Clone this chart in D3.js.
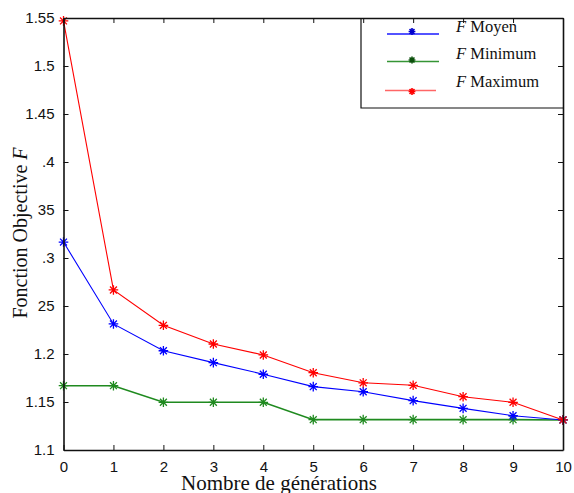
<!DOCTYPE html>
<html>
<head>
<meta charset="utf-8">
<script src="https://cdn.jsdelivr.net/npm/d3@7"></script>
<style>
html,body{margin:0;padding:0;background:#fff;}
svg{display:block;}
</style>
</head>
<body>
<svg id="chart" width="574" height="493"></svg>
<script>
const generations = [0,1,2,3,4,5,6,7,8,9,10];
const fMoyen   = [1.3166,1.2313,1.2034,1.1910,1.1789,1.1660,1.1607,1.1514,1.1434,1.1357,1.1313];
const fMinimum = [1.1670,1.1670,1.1497,1.1497,1.1497,1.1316,1.1316,1.1316,1.1316,1.1316,1.1313];
const fMaximum = [1.5470,1.2667,1.2299,1.2104,1.1990,1.1805,1.1700,1.1674,1.1555,1.1497,1.1313];
const xTickValues = [0,1,2,3,4,5,6,7,8,9,10];
const yTickValues = [1.1,1.15,1.2,1.25,1.3,1.35,1.4,1.45,1.5,1.55];
const yTickLabels = ["1.1","1.15","1.2","25",".3","35",".4","1.45","1.5","1.55"];
const seriesNames = ["Moyen","Minimum","Maximum"];

const series = [
  {name: seriesNames[0], values: fMoyen,   color: "#0000ff", width: 1.1},
  {name: seriesNames[1], values: fMinimum, color: "#1f8a1f", width: 1.6},
  {name: seriesNames[2], values: fMaximum, color: "#ff0000", width: 1.1}
];

const svg = d3.select("#chart");
const L = 63.5, R = 563, T = 18, B = 450;
const x = d3.scaleLinear().domain([0,10]).range([L,R]);
const y = d3.scaleLinear().domain([1.1,1.55]).range([B,T]);

const line = d3.line().x((d,i)=>x(generations[i])).y(d=>y(d));
function star(g, cx, cy, color, r, w){
  const d = r*0.72;
  const p = `M${cx-r},${cy}L${cx+r},${cy}M${cx},${cy-r}L${cx},${cy+r}` +
            `M${cx-d},${cy-d}L${cx+d},${cy+d}M${cx-d},${cy+d}L${cx+d},${cy-d}`;
  g.append("path").attr("d", p).attr("stroke", color).attr("stroke-width", w || 1.2).attr("fill","none");
}
[series[1], series[0], series[2]].forEach(s=>{
  const g = svg.append("g");
  g.append("path").datum(s.values).attr("d", line)
    .attr("fill","none").attr("stroke", s.color).attr("stroke-width", s.width);
  s.values.forEach((v,i)=> star(g, x(generations[i]), y(v), s.color, 4.8, 1.3));
});

const axisColor = "#111";
const fontSans = "'Liberation Sans', Arial, sans-serif";
const fontSerif = "'Liberation Serif', 'Times New Roman', serif";

const gxB = svg.append("g").attr("transform",`translate(0,${B})`)
  .call(d3.axisBottom(x).tickValues(xTickValues).tickFormat(d3.format("d")).tickSizeInner(-5).tickSizeOuter(0).tickPadding(9));
const gxT = svg.append("g").attr("transform",`translate(0,${T})`)
  .call(d3.axisTop(x).tickValues(xTickValues).tickFormat("").tickSizeInner(-5).tickSizeOuter(0));
const gyL = svg.append("g").attr("transform",`translate(${L},0)`)
  .call(d3.axisLeft(y).tickValues(yTickValues).tickFormat((d,i)=>yTickLabels[i]).tickSizeInner(-5).tickSizeOuter(0).tickPadding(9));
const gyR = svg.append("g").attr("transform",`translate(${R},0)`)
  .call(d3.axisRight(y).tickValues(yTickValues).tickFormat("").tickSizeInner(-5).tickSizeOuter(0));

[gxB,gxT,gyL,gyR].forEach(g=>{
  g.select(".domain").attr("stroke", axisColor).attr("stroke-width", 1.6);
  g.selectAll(".tick line").attr("stroke", axisColor).attr("stroke-width", 1);
  g.selectAll("text").attr("fill","#111").style("font-family", fontSans).style("font-size","15px");
});
gxB.selectAll("text").attr("dy","0.85em");

svg.append("text").attr("x", 279).attr("y", 490).attr("text-anchor","middle")
  .style("font-family", fontSerif).style("font-size","21px").attr("fill","#111")
  .text("Nombre de générations");
const yl = svg.append("text").attr("transform","translate(27,233) rotate(-90)").attr("text-anchor","middle")
  .style("font-family", fontSerif).style("font-size","20px").attr("fill","#111");
yl.append("tspan").text("Fonction Objective ");
yl.append("tspan").style("font-style","italic").text("F");

const lg = svg.append("g");
lg.append("path").attr("d", `M361,${T}L361,108L${R},108`).attr("fill","none").attr("stroke", axisColor).attr("stroke-width",1.2);
const legRows = [
  {s: series[0], ly: 34, sy: 31.5, ty: 31.5, x1: 387, x2: 439, sc: "#0000cc"},
  {s: series[1], ly: 61.5, sy: 60, ty: 58.5, x1: 387, x2: 439, sc: "#0b4f0b"},
  {s: series[2], ly: 90.5, sy: 91.5, ty: 87, x1: 385, x2: 436, sc: "#ff0000"}
];
legRows.forEach(r=>{
  lg.append("line").attr("x1", r.x1).attr("x2", r.x2).attr("y1", r.ly).attr("y2", r.ly)
    .attr("stroke", r.s.color).attr("stroke-width", 1.3).attr("stroke-opacity", r.s === series[2] ? 0.6 : 0.9);
  star(lg, 412, r.sy, r.sc, 3.4, 1.6);
  const t = lg.append("text").attr("x", 456).attr("y", r.ty)
    .style("font-family", fontSerif).style("font-size","16.5px").attr("fill","#111");
  t.append("tspan").style("font-style","italic").text("F");
  t.append("tspan").text(" " + r.s.name);
});
</script>
</body>
</html>
